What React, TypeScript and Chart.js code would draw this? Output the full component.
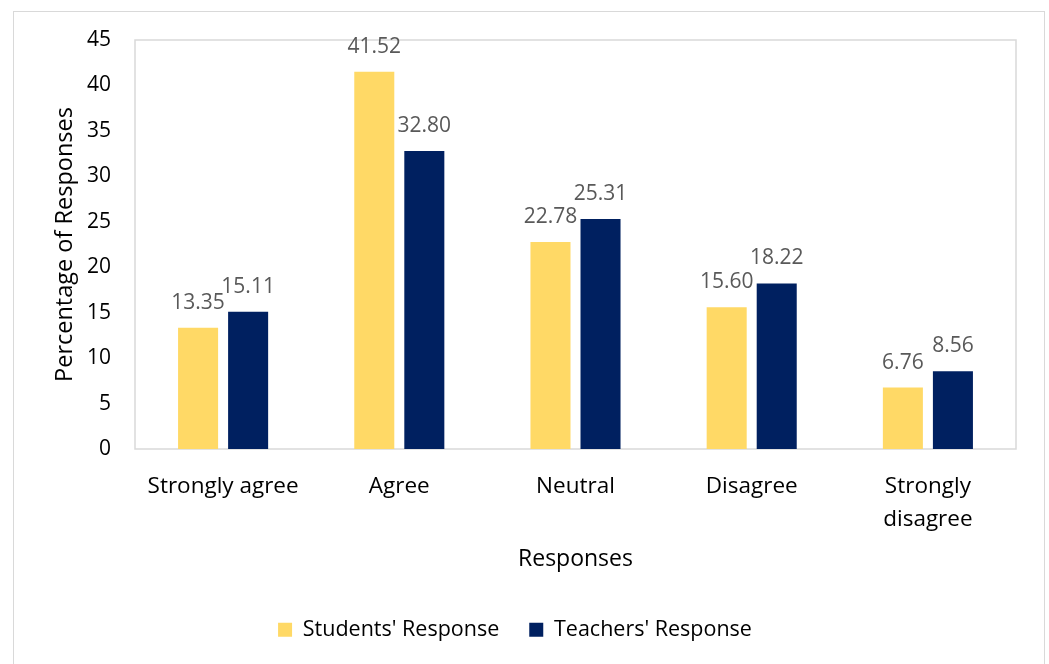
import React, { useEffect, useRef } from "react";
import { Chart, registerables } from "chart.js";

Chart.register(...registerables);

const categories: (string | string[])[] = [
  "Strongly agree",
  "Agree",
  "Neutral",
  "Disagree",
  ["Strongly", "disagree"],
];
const studentsResponse = [13.35, 41.52, 22.78, 15.6, 6.76];
const teachersResponse = [15.11, 32.8, 25.31, 18.22, 8.56];
const seriesNames = ["Students' Response", "Teachers' Response"];
const yAxisTitle = "Percentage of Responses";
const xAxisTitle = "Responses";

const FONT = "'Open Sans', sans-serif";

const valueLabels = {
  id: "valueLabels",
  afterDatasetsDraw(chart: any) {
    const ctx = chart.ctx;
    ctx.save();
    ctx.font = `21px ${FONT}`;
    ctx.fillStyle = "#595959";
    ctx.textAlign = "center";
    ctx.textBaseline = "middle";
    chart.data.datasets.forEach((ds: any, i: number) => {
      const meta = chart.getDatasetMeta(i);
      meta.data.forEach((bar: any, j: number) => {
        const v = ds.data[j] as number;
        ctx.fillText(v.toFixed(2), bar.x, bar.y - 25);
      });
    });
    ctx.restore();
  },
};

const plotBorder = {
  id: "plotBorder",
  beforeDatasetsDraw(chart: any) {
    const { ctx, chartArea } = chart;
    ctx.save();
    ctx.strokeStyle = "#d9d9d9";
    ctx.lineWidth = 1.5;
    ctx.strokeRect(
      chartArea.left,
      chartArea.top,
      chartArea.right - chartArea.left,
      chartArea.bottom - chartArea.top
    );
    ctx.restore();
  },
};

export default function App() {
  const ref = useRef<HTMLCanvasElement>(null);

  useEffect(() => {
    if (!ref.current) return;
    const chart = new Chart(ref.current, {
      type: "bar",
      data: {
        labels: categories,
        datasets: [
          {
            label: seriesNames[0],
            data: studentsResponse,
            backgroundColor: "#FFD966",
            categoryPercentage: 0.568,
            barPercentage: 0.8,
          },
          {
            label: seriesNames[1],
            data: teachersResponse,
            backgroundColor: "#002060",
            categoryPercentage: 0.568,
            barPercentage: 0.8,
          },
        ],
      },
      options: {
        responsive: false,
        animation: false,
        layout: { padding: { left: 14, right: 33, top: 40, bottom: 13.5 } },
        plugins: {
          legend: {
            position: "bottom",
            labels: {
              boxWidth: 14,
              boxHeight: 14,
              padding: 30,
              color: "#000",
              font: { family: FONT, size: 21.5 },
            },
          },
          tooltip: { enabled: false },
        },
        scales: {
          x: {
            grid: { display: false, drawTicks: false },
            border: { display: false },
            ticks: {
              color: "#000",
              padding: 21,
              maxRotation: 0,
              autoSkip: false,
              font: { family: FONT, size: 22.5, lineHeight: 1.47 },
            },
            title: {
              display: true,
              text: xAxisTitle,
              color: "#000",
              font: { family: FONT, size: 23 },
              padding: { top: 0, bottom: 16 },
            },
            afterFit(scale: any) {
              scale.height = 140;
            },
          },
          y: {
            min: 0,
            max: 45,
            grid: { display: false, drawTicks: false },
            border: { display: false },
            ticks: {
              stepSize: 5,
              color: "#000",
              padding: 24,
              font: { family: FONT, size: 21 },
            },
            title: {
              display: true,
              text: yAxisTitle,
              color: "#000",
              font: { family: FONT, size: 23.5 },
              padding: { top: 37, bottom: 0 },
            },
            afterFit(scale: any) {
              scale.width = 121;
            },
          },
        },
      },
      plugins: [plotBorder, valueLabels],
    });
    return () => chart.destroy();
  }, []);

  return (
    <div
      style={{
        position: "fixed",
        left: 0,
        top: 0,
        width: 1049,
        height: 664,
        background: "#fff",
        overflow: "hidden",
      }}
    >
      <div
        style={{
          position: "absolute",
          left: 13,
          top: 11,
          width: 1030,
          height: 700,
          border: "1px solid #d9d9d9",
        }}
      />
      <canvas
        ref={ref}
        width={1049}
        height={664}
        style={{ position: "absolute", left: 0, top: 0 }}
      />
    </div>
  );
}
